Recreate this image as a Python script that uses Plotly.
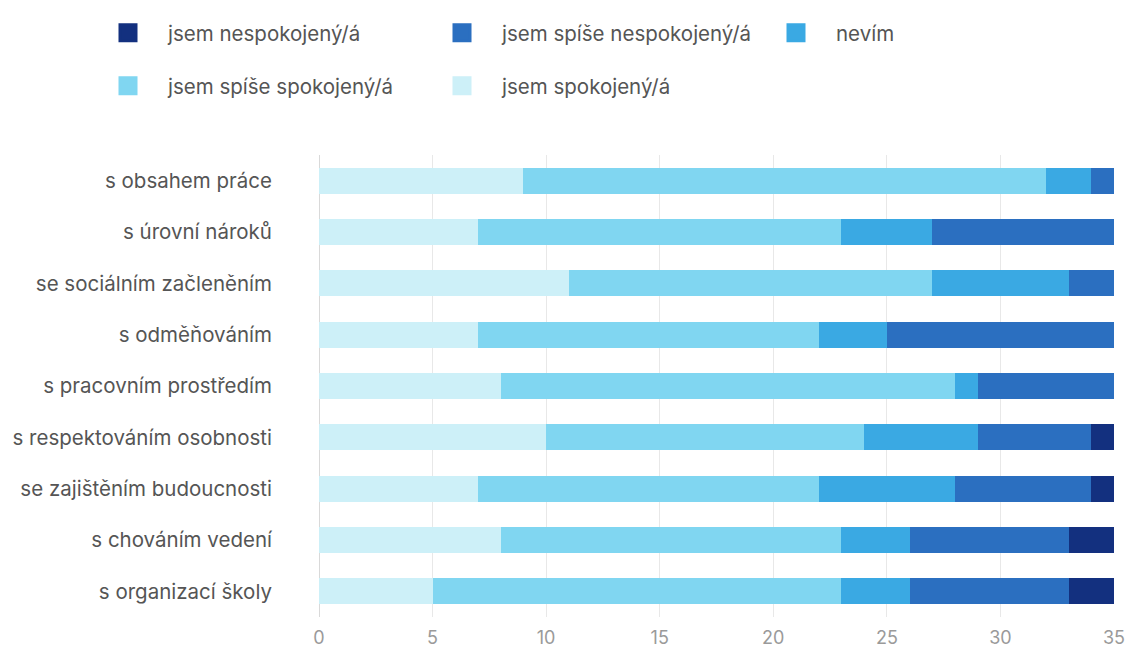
import plotly.graph_objects as go

categories = [
    "s obsahem práce",
    "s úrovní nároků",
    "se sociálním začleněním",
    "s odměňováním",
    "s pracovním prostředím",
    "s respektováním osobnosti",
    "se zajištěním budoucnosti",
    "s chováním vedení",
    "s organizací školy",
]

spokojeny = [9, 7, 11, 7, 8, 10, 7, 8, 5]
spise_spokojeny = [23, 16, 16, 15, 20, 14, 15, 15, 18]
nevim = [2, 4, 6, 3, 1, 5, 6, 3, 3]
spise_nespokojeny = [1, 8, 2, 10, 6, 5, 6, 7, 7]
nespokojeny = [0, 0, 0, 0, 0, 1, 1, 2, 2]

series = [
    ("jsem spokojený/á", spokojeny, "#cdf0f8"),
    ("jsem spíše spokojený/á", spise_spokojeny, "#80d6f1"),
    ("nevím", nevim, "#3aa9e3"),
    ("jsem spíše nespokojený/á", spise_nespokojeny, "#2b6fc0"),
    ("jsem nespokojený/á", nespokojeny, "#13307f"),
]

FONT = "Inter"
LABEL_SIZE = 20.5
TEXT_COLOR = "#555555"

fig = go.Figure()

for name, values, color in series:
    fig.add_trace(go.Bar(
        y=categories, x=values, name=name, orientation="h",
        marker=dict(color=color, line=dict(width=0)),
        showlegend=False,
        hovertemplate="%{y}: %{x}<extra>" + name + "</extra>",
    ))

# legend entries with square markers, from negative to positive;
# the first three go on the top row, the rest on the second row
legend_order = list(reversed(series))
for i, (name, values, color) in enumerate(legend_order):
    fig.add_trace(go.Scatter(
        x=[None], y=[None], mode="markers", name=name,
        marker=dict(symbol="square", size=20, color=color,
                    line=dict(width=3, color=color)),
        showlegend=True,
        legend="legend" if i < 3 else "legend2",
    ))

plot_top, plot_bottom, plot_left = 155, 617, 319
plot_h = plot_bottom - plot_top
plot_w = 1114 - plot_left


def paper_x(px):
    return (px - plot_left) / plot_w


def paper_y(py):
    return (plot_bottom - py) / plot_h


legend_common = dict(
    orientation="h",
    xanchor="left", yanchor="top",
    x=paper_x(88),
    entrywidth=249, entrywidthmode="pixels",
    itemwidth=70,
    font=dict(family=FONT, size=LABEL_SIZE, color=TEXT_COLOR),
    traceorder="normal",
    bgcolor="rgba(0,0,0,0)",
)

fig.update_layout(
    barmode="stack",
    bargap=0.49,
    width=1128,
    height=650,
    margin=dict(l=plot_left, r=1128 - 1114, t=plot_top, b=650 - plot_bottom, autoexpand=False),
    paper_bgcolor="white",
    plot_bgcolor="white",
    font=dict(family=FONT, size=LABEL_SIZE, color=TEXT_COLOR),
    legend=dict(legend_common, y=paper_y(13)),
    legend2=dict(legend_common, y=paper_y(66)),
    xaxis=dict(
        range=[0, 35],
        tickvals=[0, 5, 10, 15, 20, 25, 30, 35],
        showgrid=True, gridcolor="#e8e8e8", gridwidth=1,
        zeroline=True, zerolinecolor="#d9d9d9", zerolinewidth=1,
        tickfont=dict(family=FONT, size=18, color="#9a9a9a"),
        ticklabelstandoff=8,
        automargin=False,
        fixedrange=True,
    ),
    yaxis=dict(
        categoryorder="array",
        categoryarray=categories,
        autorange="reversed",
        showgrid=False,
        ticks="",
        ticklabelstandoff=46,
        tickfont=dict(family=FONT, size=LABEL_SIZE, color=TEXT_COLOR),
        automargin=False,
        fixedrange=True,
    ),
)

fig.write_html("out.html")
